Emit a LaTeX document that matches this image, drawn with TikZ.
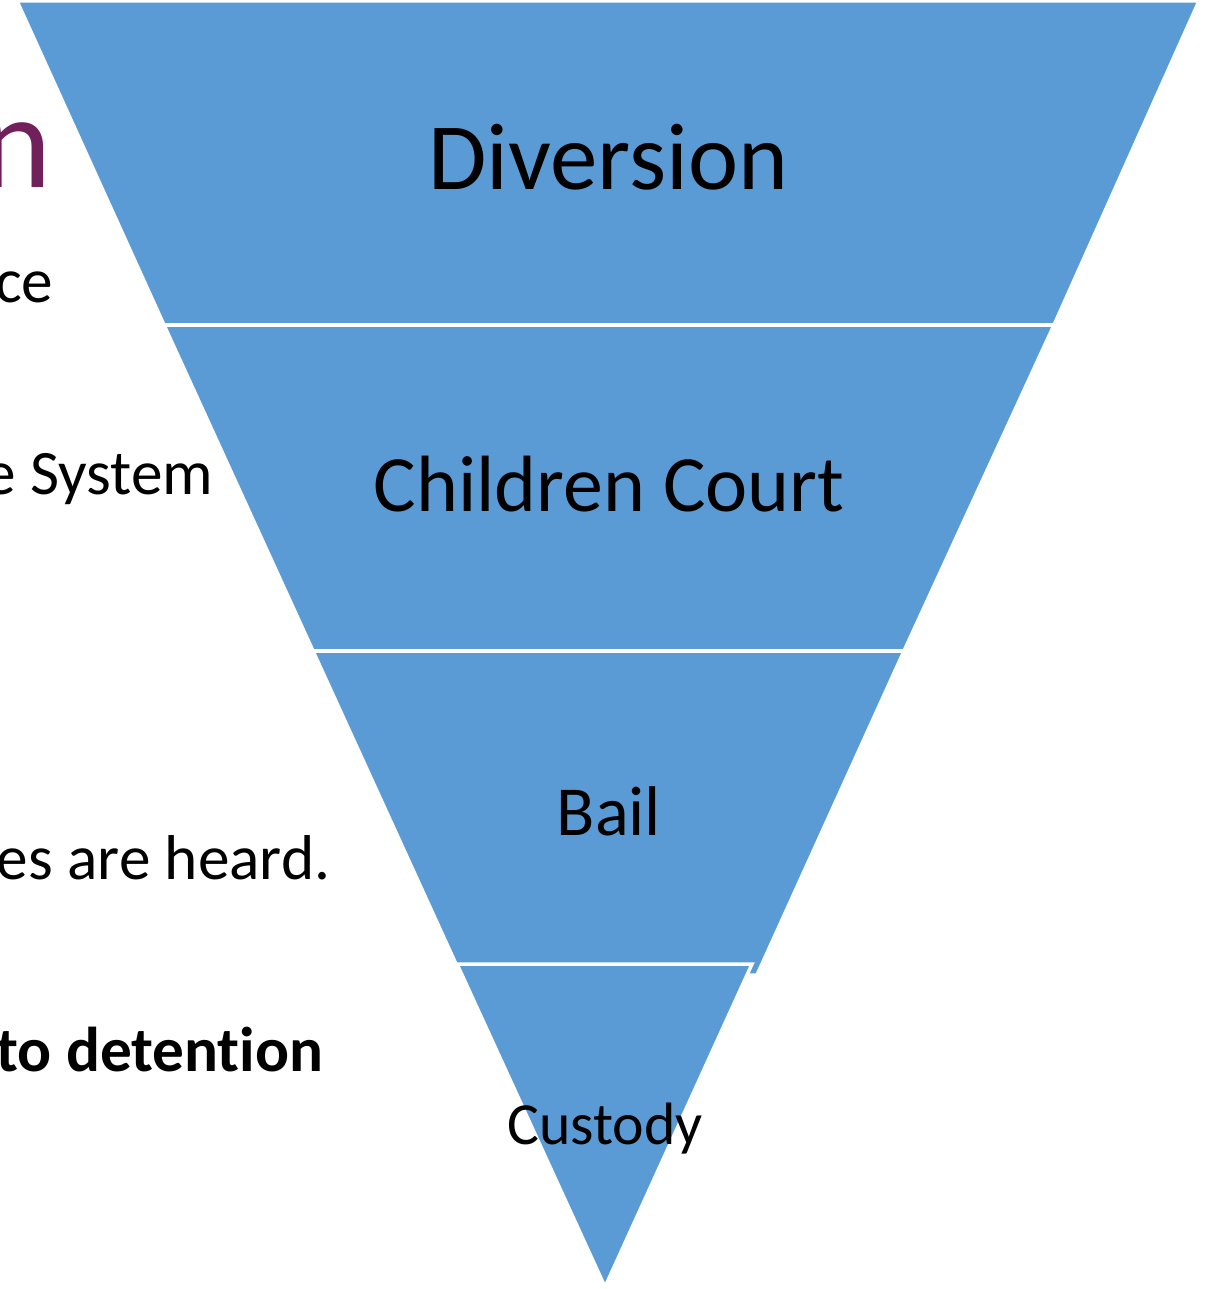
\documentclass[tikz,border=0pt]{standalone}
\usepackage{fontspec}
\setmainfont{Carlito}[Ligatures = NoCommon]
\definecolor{funnelblue}{HTML}{5B9BD5}
\definecolor{titleplum}{HTML}{70205B}
\tikzset{
  band/.style = {fill = funnelblue, draw = white, line width = 1pt},
  bandlabel/.style = {anchor = base, inner sep = 0pt, text = black},
  cuttext/.style = {anchor = base east, inner sep = 0pt, font = \fontsize{18}{18}\selectfont}
}
\begin{document}
\begin{tikzpicture}[x = 0.01cm, y = -0.01cm]
  \useasboundingbox (0, 0) rectangle (1204, 1289);
  \clip (0, 0) rectangle (1204, 1289);
  % slide text cut off at the left
  \node[cuttext, text = titleplum, font = \fontsize{38}{38}\selectfont] (title) at (52, 188) {n};
  \node[cuttext] (lineone) at (54, 303) {ce};
  \node[cuttext] (linetwo) at (214, 495) {e System};
  \node[cuttext] (linethree) at (331, 879) {es are heard.};
  \node[cuttext, font = \fontsize{18}{18}\selectfont\bfseries] (linefour) at (324, 1071) {to detention};
  % funnel
  \draw[band] (17, 1) -- (1199, 1) -- (1054, 325) -- (164, 325) -- cycle;
  \draw[band] (164, 325) -- (1054, 325) -- (904, 651) -- (313, 651) -- cycle;
  \draw[band] (313, 651) -- (904, 651) -- (757, 975) -- (461, 975) -- cycle;
  \draw[band] (457, 964) -- (752, 964) -- (605, 1287) -- cycle;
  \node[bandlabel, font = \fontsize{27}{27}\selectfont] (diversion) at (608, 190) {Diversion};
  \node[bandlabel, font = \fontsize{22.7}{22.7}\selectfont] (court) at (609, 512) {Children Court};
  \node[bandlabel, font = \fontsize{20}{20}\selectfont] (bail) at (609, 835) {Bail};
  \node[bandlabel, font = \fontsize{17}{17}\selectfont] (custody) at (605, 1144) {Custody};
\end{tikzpicture}
\end{document}
